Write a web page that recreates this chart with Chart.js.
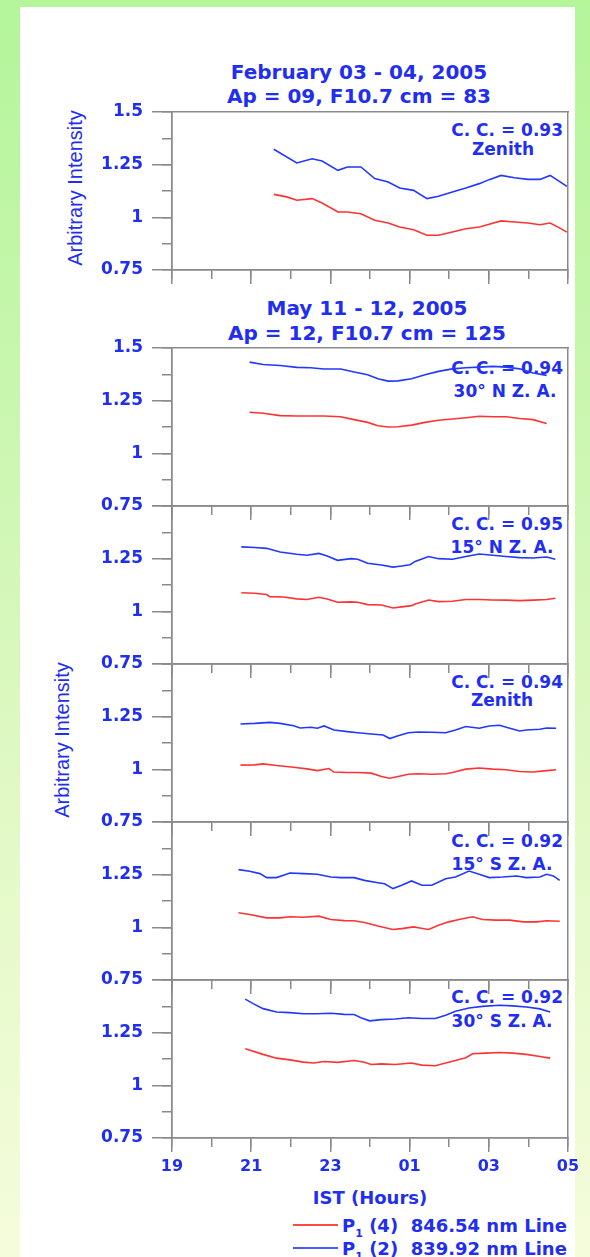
<!DOCTYPE html>
<html>
<head>
<meta charset="utf-8">
<script src="https://cdn.jsdelivr.net/npm/chart.js@4.4.1/dist/chart.umd.min.js"></script>
<style>
  html, body { margin: 0; padding: 0; }
  body {
    width: 590px; height: 1257px; overflow: hidden; position: relative;
    background: linear-gradient(to bottom, #b4f59a 0%, #c8f6ae 30%, #e2f9c6 65%, #f5fcdc 100%);
  }
  #sheet { position: absolute; left: 20px; top: 7px; width: 555px; height: 1250px; background: #fff; }
  canvas { position: absolute; left: 0; }
  .t {
    position: absolute; white-space: nowrap; color: #1f2ef0;
    font-family: "DejaVu Sans", sans-serif; font-weight: bold;
    transform: translate(-50%, -50%);
  }
  .r { transform: translate(-100%, -50%); }
  .ylab {
    font-family: "Liberation Sans", Arial, sans-serif; font-weight: normal; font-size: 20px;
    transform: translate(-50%, -50%) rotate(-90deg);
  }
  .sub { font-size: 11px; position: relative; top: 5px; }
  .key { position: absolute; height: 0; border-top: 2px solid; width: 45px; }
</style>
</head>
<body>
<div id="sheet"></div>

<div class="t" style="left:359px; top:72px; font-size:20px;">February 03 - 04, 2005</div>
<div class="t" style="left:359px; top:96px; font-size:20px;">Ap = 09, F10.7 cm = 83</div>
<div class="t" style="left:367px; top:308px; font-size:20px;">May 11 - 12, 2005</div>
<div class="t" style="left:367px; top:333px; font-size:20px;">Ap = 12, F10.7 cm = 125</div>

<div class="t ylab" style="left:75px; top:188px;">Arbitrary Intensity</div>
<div class="t ylab" style="left:62px; top:740px;">Arbitrary Intensity</div>

<div class="t r" style="left:563px; top:130px; font-size:17px;">C. C. = 0.93</div>
<div class="t" style="left:503px; top:149px; font-size:17px;">Zenith</div>
<div class="t r" style="left:563px; top:368px; font-size:17px;">C. C. = 0.94</div>
<div class="t" style="left:505px; top:391px; font-size:17px;">30° N Z. A.</div>
<div class="t r" style="left:563px; top:524px; font-size:17px;">C. C. = 0.95</div>
<div class="t" style="left:502px; top:547px; font-size:17px;">15° N Z. A.</div>
<div class="t r" style="left:563px; top:682px; font-size:17px;">C. C. = 0.94</div>
<div class="t" style="left:502px; top:700px; font-size:17px;">Zenith</div>
<div class="t r" style="left:563px; top:841px; font-size:17px;">C. C. = 0.92</div>
<div class="t" style="left:502px; top:864px; font-size:17px;">15° S Z. A.</div>
<div class="t r" style="left:563px; top:997px; font-size:17px;">C. C. = 0.92</div>
<div class="t" style="left:502px; top:1021px; font-size:17px;">30° S Z. A.</div>

<div class="t" style="left:370px; top:1197px; font-size:18px;">IST (Hours)</div>

<div class="key" style="left:293px; top:1224px; border-color:#ff4a4a;"></div>
<div class="t" style="left:342px; top:1225px; font-size:18px; transform:translate(0,-50%);">P<span class="sub">1</span> (4)&nbsp;&nbsp;846.54 nm Line</div>
<div class="key" style="left:293px; top:1247px; border-color:#4a5aff;"></div>
<div class="t" style="left:342px; top:1248px; font-size:18px; transform:translate(0,-50%);">P<span class="sub">1</span> (2)&nbsp;&nbsp;839.92 nm Line</div>

<script>
// IST hours, after midnight counted as 24+
const febBlueH = [21.57, 22.15, 22.54, 22.79, 23.19, 23.43, 23.77, 24.12, 24.46, 24.75, 25.10, 25.44, 25.73, 26.08, 26.42, 26.76, 27.01, 27.31, 27.65, 27.99, 28.29, 28.55, 28.80, 28.97];
const febBlueV = [1.323, 1.258, 1.278, 1.267, 1.223, 1.239, 1.239, 1.184, 1.168, 1.139, 1.128, 1.089, 1.100, 1.120, 1.139, 1.160, 1.179, 1.199, 1.188, 1.180, 1.180, 1.199, 1.168, 1.147];
const febRedH = [21.57, 21.90, 22.15, 22.54, 22.79, 23.19, 23.43, 23.77, 24.12, 24.46, 24.75, 25.10, 25.44, 25.73, 26.08, 26.42, 26.76, 27.01, 27.31, 27.65, 27.99, 28.29, 28.55, 28.80, 28.97];
const febRedV = [1.109, 1.097, 1.081, 1.089, 1.068, 1.025, 1.025, 1.017, 0.986, 0.973, 0.954, 0.941, 0.915, 0.915, 0.930, 0.946, 0.954, 0.967, 0.983, 0.978, 0.973, 0.965, 0.973, 0.949, 0.930];

const n30H = [20.96, 21.30, 21.73, 22.15, 22.50, 22.84, 23.26, 23.60, 23.94, 24.20, 24.46, 24.71, 25.05, 25.39, 25.73, 26.08, 26.42, 26.76, 27.10, 27.44, 27.78, 28.12, 28.46];
const n30BlueV = [1.433, 1.422, 1.417, 1.408, 1.406, 1.400, 1.400, 1.386, 1.373, 1.354, 1.343, 1.344, 1.354, 1.373, 1.389, 1.401, 1.406, 1.409, 1.413, 1.409, 1.401, 1.381, 1.370];
const n30RedV = [1.195, 1.190, 1.179, 1.177, 1.177, 1.177, 1.174, 1.160, 1.147, 1.131, 1.125, 1.126, 1.134, 1.147, 1.157, 1.163, 1.169, 1.176, 1.174, 1.174, 1.165, 1.160, 1.142];

const n15BlueH = [20.75, 21.09, 21.39, 21.73, 22.15, 22.41, 22.71, 22.92, 23.18, 23.52, 23.69, 23.94, 24.29, 24.58, 24.80, 25.01, 25.14, 25.48, 25.73, 26.08, 26.42, 26.76, 27.10, 27.44, 27.78, 28.12, 28.46, 28.68];
const n15BlueV = [1.306, 1.303, 1.299, 1.282, 1.271, 1.266, 1.275, 1.263, 1.242, 1.250, 1.247, 1.228, 1.220, 1.210, 1.215, 1.221, 1.237, 1.260, 1.250, 1.247, 1.260, 1.272, 1.266, 1.260, 1.255, 1.253, 1.258, 1.247];
const n15RedH = [20.75, 21.09, 21.39, 21.47, 21.81, 22.15, 22.41, 22.71, 22.92, 23.18, 23.52, 23.69, 23.94, 24.29, 24.58, 24.80, 25.05, 25.14, 25.48, 25.73, 26.08, 26.42, 26.76, 27.10, 27.44, 27.78, 28.12, 28.46, 28.68];
const n15RedV = [1.088, 1.086, 1.080, 1.070, 1.068, 1.059, 1.056, 1.067, 1.059, 1.043, 1.045, 1.043, 1.032, 1.030, 1.016, 1.021, 1.027, 1.035, 1.054, 1.046, 1.048, 1.056, 1.056, 1.054, 1.053, 1.051, 1.053, 1.056, 1.062];

const zenBlueH = [20.73, 21.09, 21.47, 21.73, 22.07, 22.24, 22.50, 22.67, 22.84, 23.09, 23.43, 23.69, 24.03, 24.33, 24.50, 24.71, 24.97, 25.22, 25.56, 25.91, 26.16, 26.42, 26.76, 27.01, 27.27, 27.53, 27.78, 27.95, 28.29, 28.46, 28.70];
const zenBlueV = [1.215, 1.218, 1.223, 1.218, 1.207, 1.196, 1.200, 1.195, 1.206, 1.187, 1.179, 1.174, 1.168, 1.163, 1.146, 1.159, 1.174, 1.177, 1.176, 1.174, 1.187, 1.203, 1.195, 1.206, 1.209, 1.195, 1.182, 1.187, 1.190, 1.196, 1.195];
const zenRedH = [20.73, 21.09, 21.30, 21.64, 22.07, 22.41, 22.67, 22.96, 23.09, 23.43, 23.69, 24.03, 24.29, 24.50, 24.71, 24.97, 25.22, 25.56, 25.91, 26.08, 26.42, 26.76, 27.10, 27.44, 27.78, 28.12, 28.46, 28.70];
const zenRedV = [1.020, 1.021, 1.026, 1.018, 1.010, 1.002, 0.994, 1.004, 0.987, 0.985, 0.985, 0.982, 0.966, 0.958, 0.966, 0.977, 0.979, 0.977, 0.979, 0.985, 1.001, 1.006, 1.001, 0.998, 0.990, 0.987, 0.994, 0.998];

const s15BlueH = [20.68, 20.96, 21.22, 21.39, 21.64, 21.98, 22.32, 22.67, 23.01, 23.26, 23.60, 23.86, 24.20, 24.37, 24.58, 24.80, 25.05, 25.31, 25.56, 25.91, 26.16, 26.50, 26.76, 27.01, 27.35, 27.70, 27.95, 28.29, 28.46, 28.63, 28.79];
const s15BlueV = [1.274, 1.266, 1.255, 1.236, 1.236, 1.258, 1.255, 1.252, 1.239, 1.236, 1.236, 1.223, 1.212, 1.207, 1.184, 1.200, 1.220, 1.200, 1.200, 1.231, 1.239, 1.267, 1.252, 1.236, 1.239, 1.244, 1.236, 1.239, 1.252, 1.244, 1.223];
const s15RedH = [20.68, 20.96, 21.39, 21.73, 21.98, 22.32, 22.71, 23.01, 23.35, 23.60, 23.86, 24.20, 24.58, 24.80, 25.10, 25.22, 25.48, 25.73, 25.99, 26.25, 26.59, 26.84, 27.18, 27.53, 27.87, 28.21, 28.46, 28.79];
const s15RedV = [1.069, 1.061, 1.045, 1.045, 1.050, 1.048, 1.053, 1.037, 1.032, 1.031, 1.023, 1.006, 0.990, 0.994, 1.002, 0.998, 0.990, 1.010, 1.026, 1.037, 1.050, 1.037, 1.034, 1.034, 1.026, 1.026, 1.031, 1.029];

const s30BlueH = [20.85, 21.05, 21.30, 21.64, 21.98, 22.32, 22.67, 23.01, 23.35, 23.60, 23.77, 23.99, 24.29, 24.63, 24.97, 25.31, 25.65, 25.91, 26.16, 26.50, 26.84, 27.27, 27.61, 27.95, 28.29, 28.55];
const s30BlueV = [1.409, 1.388, 1.364, 1.348, 1.345, 1.340, 1.340, 1.342, 1.337, 1.336, 1.321, 1.306, 1.312, 1.315, 1.321, 1.317, 1.317, 1.333, 1.352, 1.367, 1.375, 1.380, 1.377, 1.372, 1.363, 1.348];
const s30RedH = [20.85, 21.30, 21.64, 21.98, 22.32, 22.58, 22.84, 23.18, 23.60, 23.86, 24.03, 24.29, 24.63, 25.05, 25.31, 25.65, 25.91, 26.16, 26.42, 26.59, 26.93, 27.27, 27.61, 27.95, 28.29, 28.55];
const s30RedV = [1.174, 1.147, 1.129, 1.121, 1.110, 1.106, 1.113, 1.109, 1.118, 1.110, 1.099, 1.102, 1.099, 1.106, 1.096, 1.093, 1.106, 1.118, 1.131, 1.150, 1.153, 1.156, 1.153, 1.147, 1.137, 1.129];

const hourMin = 19, hourMax = 29;
const yMin = 0.75, yMax = 1.5;

const textBlue = '#1f2ef0';
const axisGray = '#8a8a8a';
const redLine = '#ff3333';
const blueLine = '#2237ff';

Chart.defaults.font.family = '"DejaVu Sans", sans-serif';

function pts(xs, ys) {
    return xs.map((x, i) => ({ x: x, y: ys[i] }));
}

// room above/below each plot box, bigger than the tick label half height
const PAD_TOP = 25;
const PANEL_H = 158;

function makePanel(top, red, blue, opts) {
    const bottomH = opts.xLabels ? 40 : 25;
    const cv = document.createElement('canvas');
    cv.width = 590;
    cv.height = PAD_TOP + PANEL_H + bottomH;
    cv.style.top = (top - PAD_TOP) + 'px';
    document.body.appendChild(cv);

    const border = { display: true, color: axisGray, width: 1.5 };

    return new Chart(cv, {
        type: 'line',
        data: {
            datasets: [
                { data: red, borderColor: redLine, xAxisID: 'x', yAxisID: 'y' },
                { data: blue, borderColor: blueLine, xAxisID: 'x', yAxisID: 'y' }
            ]
        },
        options: {
            responsive: false,
            animation: false,
            events: [],
            layout: { padding: { top: PAD_TOP, right: 22, bottom: 0, left: 0 } },
            elements: {
                line: { borderWidth: 1.6, tension: 0, fill: false },
                point: { radius: 0 }
            },
            plugins: {
                legend: { display: false },
                tooltip: { enabled: false }
            },
            scales: {
                x: {
                    type: 'linear', position: 'bottom', weight: 1,
                    min: hourMin, max: hourMax,
                    ticks: {
                        stepSize: 2, display: opts.xLabels, autoSkip: false, maxRotation: 0,
                        padding: 5, color: textBlue,
                        font: { size: 16, weight: 'bold' },
                        callback: v => String(v % 24).padStart(2, '0')
                    },
                    grid: { drawOnChartArea: false, tickLength: 14, color: axisGray, lineWidth: 1.5 },
                    border: border,
                    afterFit: s => { s.height = bottomH; }
                },
                xMinor: {
                    type: 'linear', position: 'bottom', weight: 0,
                    min: hourMin, max: hourMax,
                    ticks: { stepSize: 1, display: false },
                    grid: { drawOnChartArea: false, tickLength: 9, color: axisGray, lineWidth: 1.5 },
                    border: border,
                    afterFit: s => { s.height = 0; }
                },
                xTop: {
                    type: 'linear', position: 'top',
                    min: hourMin, max: hourMax,
                    ticks: { display: false },
                    grid: { display: false },
                    border: border,
                    afterFit: s => { s.height = 0; }
                },
                y: {
                    type: 'linear', position: 'left', weight: 1,
                    min: yMin, max: yMax,
                    ticks: {
                        stepSize: 0.25, padding: 9, color: textBlue,
                        font: { size: 17, weight: 'bold' },
                        callback: v => (opts.hideTop && v === yMax) ? '' : String(v)
                    },
                    grid: { drawOnChartArea: false, tickLength: 20, color: axisGray, lineWidth: 1.5 },
                    border: border,
                    afterFit: s => { s.width = 172; }
                },
                yMinor: {
                    type: 'linear', position: 'left', weight: 0,
                    min: yMin, max: yMax,
                    ticks: { stepSize: 0.125, display: false },
                    grid: { drawOnChartArea: false, tickLength: 10, color: axisGray, lineWidth: 1.5 },
                    border: border,
                    afterFit: s => { s.width = 0; }
                },
                yRight: {
                    type: 'linear', position: 'right',
                    min: yMin, max: yMax,
                    ticks: { display: false },
                    grid: { display: false },
                    border: border,
                    afterFit: s => { s.width = 0; }
                }
            }
        }
    });
}

makePanel(112, pts(febRedH, febRedV), pts(febBlueH, febBlueV), { hideTop: false, xLabels: false });
makePanel(348, pts(n30H, n30RedV), pts(n30H, n30BlueV), { hideTop: false, xLabels: false });
makePanel(506, pts(n15RedH, n15RedV), pts(n15BlueH, n15BlueV), { hideTop: true, xLabels: false });
makePanel(664, pts(zenRedH, zenRedV), pts(zenBlueH, zenBlueV), { hideTop: true, xLabels: false });
makePanel(822, pts(s15RedH, s15RedV), pts(s15BlueH, s15BlueV), { hideTop: true, xLabels: false });
makePanel(980, pts(s30RedH, s30RedV), pts(s30BlueH, s30BlueV), { hideTop: true, xLabels: true });
</script>
</body>
</html>
